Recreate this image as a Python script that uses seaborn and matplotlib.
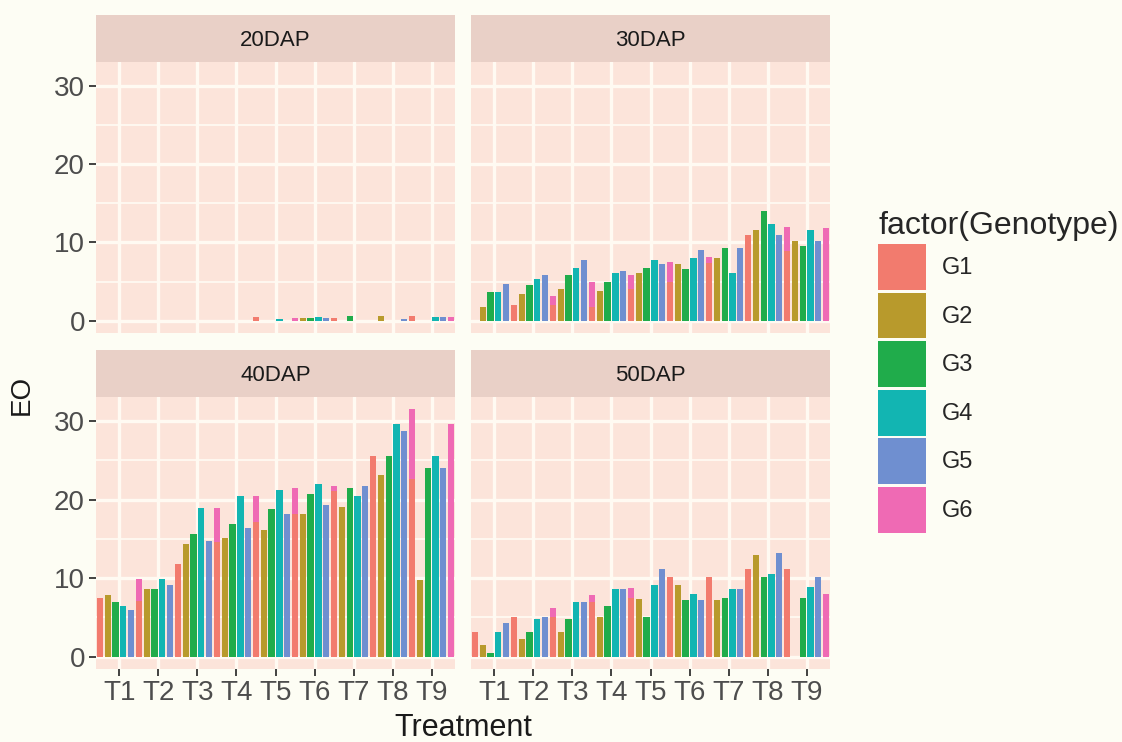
import pandas as pd
import matplotlib
matplotlib.use("Agg")
import matplotlib.pyplot as plt
from matplotlib.patches import Patch
import seaborn as sns

# categories
treatments = ["T1", "T2", "T3", "T4", "T5", "T6", "T7", "T8", "T9"]
genotypes = ["G1", "G2", "G3", "G4", "G5", "G6"]
stages = ["20DAP", "30DAP", "40DAP", "50DAP"]

# EO values: one row per treatment, columns G1..G6
eo_20dap = [
    [0.0, 0.0, 0.0, 0.0, 0.0, 0.0],
    [0.0, 0.0, 0.0, 0.0, 0.0, 0.0],
    [0.0, 0.0, 0.0, 0.0, 0.0, 0.0],
    [0.0, 0.0, 0.0, 0.0, 0.0, 0.0],
    [0.5, 0.0, 0.0, 0.2, 0.0, 0.3],
    [0.0, 0.3, 0.3, 0.5, 0.3, 0.0],
    [0.3, 0.0, 0.6, 0.0, 0.0, 0.0],
    [0.0, 0.6, 0.0, 0.0, 0.2, 0.0],
    [0.6, 0.0, 0.0, 0.5, 0.5, 0.5],
]
eo_30dap = [
    [0.0, 1.8, 3.7, 3.7, 4.7, 1.0],
    [2.0, 3.4, 4.5, 5.3, 5.8, 3.1],
    [2.0, 4.0, 5.9, 6.7, 7.7, 5.0],
    [1.8, 3.8, 5.0, 6.1, 6.4, 5.9],
    [4.0, 6.1, 6.7, 7.7, 7.2, 7.5],
    [5.0, 7.2, 6.6, 8.0, 9.1, 8.2],
    [7.4, 8.0, 9.3, 6.1, 9.3, 9.0],
    [11.0, 11.6, 14.0, 12.4, 11.0, 12.0],
    [8.9, 10.2, 9.6, 11.6, 10.2, 11.8],
]
eo_40dap = [
    [7.5, 7.8, 7.0, 6.4, 5.9, 9.9],
    [7.1, 8.6, 8.6, 9.9, 9.1, 10.5],
    [11.8, 14.3, 15.6, 18.9, 14.7, 18.9],
    [14.6, 15.1, 16.9, 20.5, 16.4, 20.5],
    [17.1, 16.1, 18.8, 21.2, 18.2, 21.5],
    [18.2, 18.2, 20.7, 22.0, 19.3, 21.7],
    [21.1, 19.1, 21.5, 20.4, 21.7, 24.0],
    [25.6, 23.1, 25.6, 29.6, 28.8, 31.5],
    [22.6, 9.8, 24.0, 25.6, 24.0, 29.6],
]
eo_50dap = [
    [3.2, 1.5, 0.5, 3.2, 4.3, 4.0],
    [5.1, 2.2, 3.2, 4.8, 5.1, 6.2],
    [5.0, 3.2, 4.8, 6.9, 6.9, 7.8],
    [7.0, 5.1, 6.4, 8.6, 8.6, 8.8],
    [7.5, 7.3, 5.1, 9.1, 11.2, 9.5],
    [10.2, 9.1, 7.2, 8.0, 7.2, 9.0],
    [10.2, 7.2, 7.5, 8.6, 8.6, 10.0],
    [11.2, 12.9, 10.2, 10.5, 13.2, 10.5],
    [11.2, 0.0, 7.5, 8.9, 10.2, 8.0],
]

colors = ["#F27B6E", "#B89A2C", "#20AC4B", "#12B5B2", "#6F8FD0", "#EF6AB4"]
panel_bg = "#FCE4DA"
strip_bg = "#E9D0C7"
fig_bg = "#FDFDF4"
grid_col = "#FFFAF2"

rows = []
for stage, table in zip(stages, [eo_20dap, eo_30dap, eo_40dap, eo_50dap]):
    for t, vals in zip(treatments, table):
        for g, v in zip(genotypes, vals):
            rows.append({"Stage": stage, "Treatment": t, "Genotype": g, "EO": v})
df = pd.DataFrame(rows)

sns.set_style("white")
plt.rcParams["font.family"] = ["Liberation Sans", "DejaVu Sans"]

W, H = 1122, 742
fig = plt.figure(figsize=(W / 100, H / 100), dpi=100, facecolor=fig_bg)


def px_rect(x0, y0, x1, y1):
    return [x0 / W, 1 - y1 / H, (x1 - x0) / W, (y1 - y0) / H]


cols_x = [(96, 455), (471, 830)]
rows_y = [((15, 62), (62, 333)), ((350, 397), (397, 669))]

for i, stage in enumerate(stages):
    r, c = divmod(i, 2)
    x0, x1 = cols_x[c]
    (s0, s1), (p0, p1) = rows_y[r]

    # facet strip
    sax = fig.add_axes(px_rect(x0, s0, x1, s1))
    sax.set_facecolor(strip_bg)
    sax.set_xticks([])
    sax.set_yticks([])
    for sp in sax.spines.values():
        sp.set_visible(False)
    sax.text(0.5, 0.45, stage, ha="center", va="center", fontsize=16,
             color="#1A1A1A", transform=sax.transAxes)

    ax = fig.add_axes(px_rect(x0, p0, x1, p1))
    ax.set_facecolor(panel_bg)
    sub = df[df["Stage"] == stage]
    sns.barplot(data=sub, x="Treatment", y="EO", hue="Genotype",
                order=treatments, hue_order=genotypes, palette=colors,
                saturation=1, errorbar=None, width=1.2, gap=0.2,
                legend=False, ax=ax)
    # first genotype sits in front of the neighbouring group's last one
    for k, cont in enumerate(ax.containers):
        for p in cont:
            p.set_linewidth(0)
            p.set_zorder(3 if k == 0 else 2.5)

    ax.set_xlim(-0.6, 8.6)
    ax.set_ylim(-1.575, 33.075)
    ax.set_yticks([0, 10, 20, 30])
    ax.set_yticks([5, 15, 25], minor=True)
    ax.set_axisbelow(True)
    ax.grid(True, which="major", color=grid_col, linewidth=2.4)
    ax.grid(True, which="minor", axis="y", color=grid_col, linewidth=1.3)
    for sp in ax.spines.values():
        sp.set_visible(False)
    ax.set_xlabel("")
    ax.set_ylabel("")
    ax.tick_params(axis="both", which="major", length=5, width=1.3,
                   color="#333333", labelsize=20, labelcolor="#4D4D4D", pad=3)
    ax.tick_params(axis="both", which="minor", length=0)
    ax.tick_params(axis="x", bottom=(r == 1), labelbottom=(r == 1))
    ax.tick_params(axis="y", left=(c == 0), labelleft=(c == 0))

fig.text(22 / W, 1 - 395 / H, "EO", rotation=90, ha="center", va="center",
         fontsize=20, color="#1A1A1A")
fig.text(463 / W, 1 - 728 / H, "Treatment", ha="center", va="center",
         fontsize=22, color="#1A1A1A")

handles = [Patch(facecolor=col, edgecolor="none") for col in colors]
fig.legend(handles, genotypes, title="factor(Genotype)", loc="upper left",
           bbox_to_anchor=(869 / W, 1 - 202 / H), frameon=False,
           fontsize=17, title_fontsize=23, handlelength=2.0, handleheight=2.6,
           labelspacing=0.12, handletextpad=0.7, alignment="left",
           borderaxespad=0)

fig.savefig("out.png", dpi=100, facecolor=fig_bg)
